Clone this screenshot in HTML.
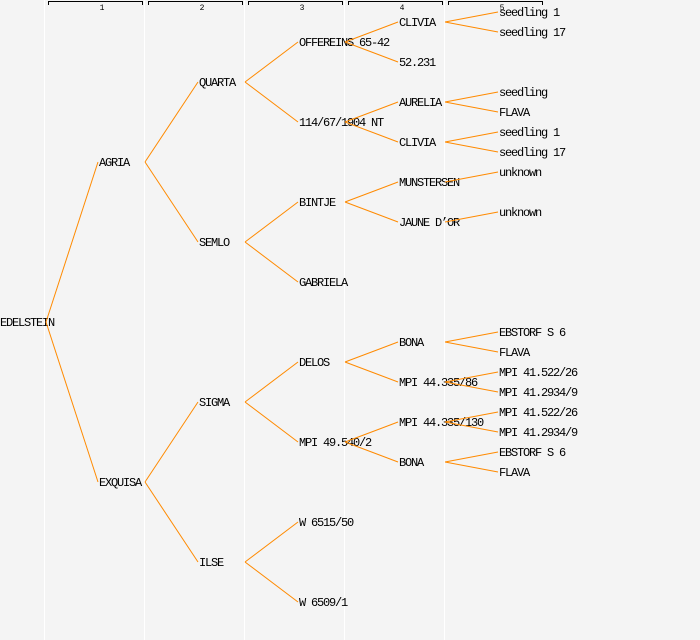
<!DOCTYPE html>
<html><head><meta charset="utf-8"><style>
html,body{margin:0;padding:0;background:#f4f4f4}
svg{display:block}
text{font-family:"Liberation Mono","DejaVu Sans Mono",monospace;font-size:12px;letter-spacing:-1.2px;fill:#000}
.n{font-size:8px;letter-spacing:0}
line.e{stroke:#ff8a00;stroke-width:1}
</style></head><body>
<svg width="700" height="640" viewBox="0 0 700 640" xmlns="http://www.w3.org/2000/svg">
<rect width="700" height="640" fill="#f4f4f4"/>
<g stroke="#ffffff" stroke-width="1">
<line x1="44.5" y1="0" x2="44.5" y2="640"/><line x1="144.5" y1="0" x2="144.5" y2="640"/><line x1="244.5" y1="0" x2="244.5" y2="640"/><line x1="344.5" y1="0" x2="344.5" y2="640"/><line x1="444.5" y1="0" x2="444.5" y2="640"/>
</g>
<g stroke="#000" stroke-width="1" fill="none">
<path d="M48.5 5V1.5H142.5V5"/><path d="M148.5 5V1.5H242.5V5"/><path d="M248.5 5V1.5H342.5V5"/><path d="M348.5 5V1.5H442.5V5"/><path d="M448.5 5V1.5H542.5V5"/>
</g>
<text class="n" x="102" y="10" text-anchor="middle">1</text>
<text class="n" x="202" y="10" text-anchor="middle">2</text>
<text class="n" x="302" y="10" text-anchor="middle">3</text>
<text class="n" x="402" y="10" text-anchor="middle">4</text>
<text class="n" x="502" y="10" text-anchor="middle">5</text>

<g>
<text x="0" y="326">EDELSTEIN</text>
<text x="99" y="166">AGRIA</text>
<text x="99" y="486">EXQUISA</text>
<text x="199" y="86">QUARTA</text>
<text x="199" y="246">SEMLO</text>
<text x="199" y="406">SIGMA</text>
<text x="199" y="566">ILSE</text>
<text x="299" y="46">OFFEREINS 65-42</text>
<text x="299" y="126">114/67/1904 NT</text>
<text x="299" y="206">BINTJE</text>
<text x="299" y="286">GABRIELA</text>
<text x="299" y="366">DELOS</text>
<text x="299" y="446">MPI 49.540/2</text>
<text x="299" y="526">W 6515/50</text>
<text x="299" y="606">W 6509/1</text>
<text x="399" y="26">CLIVIA</text>
<text x="399" y="66">52.231</text>
<text x="399" y="106">AURELIA</text>
<text x="399" y="146">CLIVIA</text>
<text x="399" y="186">MUNSTERSEN</text>
<text x="399" y="226">JAUNE D’OR</text>
<text x="399" y="346">BONA</text>
<text x="399" y="386">MPI 44.335/86</text>
<text x="399" y="426">MPI 44.335/130</text>
<text x="399" y="466">BONA</text>
<text x="499" y="16">seedling 1</text>
<text x="499" y="36">seedling 17</text>
<text x="499" y="96">seedling</text>
<text x="499" y="116">FLAVA</text>
<text x="499" y="136">seedling 1</text>
<text x="499" y="156">seedling 17</text>
<text x="499" y="176">unknown</text>
<text x="499" y="216">unknown</text>
<text x="499" y="336">EBSTORF S 6</text>
<text x="499" y="356">FLAVA</text>
<text x="499" y="376">MPI 41.522/26</text>
<text x="499" y="396">MPI 41.2934/9</text>
<text x="499" y="416">MPI 41.522/26</text>
<text x="499" y="436">MPI 41.2934/9</text>
<text x="499" y="456">EBSTORF S 6</text>
<text x="499" y="476">FLAVA</text>
</g>

<g>
<line class="e" x1="46" y1="322" x2="98" y2="162"/>
<line class="e" x1="46" y1="322" x2="98" y2="482"/>
<line class="e" x1="145" y1="162" x2="198" y2="82"/>
<line class="e" x1="145" y1="162" x2="198" y2="242"/>
<line class="e" x1="145" y1="482" x2="198" y2="402"/>
<line class="e" x1="145" y1="482" x2="198" y2="562"/>
<line class="e" x1="245" y1="82" x2="298" y2="42"/>
<line class="e" x1="245" y1="82" x2="298" y2="122"/>
<line class="e" x1="245" y1="242" x2="298" y2="202"/>
<line class="e" x1="245" y1="242" x2="298" y2="282"/>
<line class="e" x1="245" y1="402" x2="298" y2="362"/>
<line class="e" x1="245" y1="402" x2="298" y2="442"/>
<line class="e" x1="245" y1="562" x2="298" y2="522"/>
<line class="e" x1="245" y1="562" x2="298" y2="602"/>
<line class="e" x1="345" y1="42" x2="398" y2="22"/>
<line class="e" x1="345" y1="42" x2="398" y2="62"/>
<line class="e" x1="345" y1="122" x2="398" y2="102"/>
<line class="e" x1="345" y1="122" x2="398" y2="142"/>
<line class="e" x1="345" y1="202" x2="398" y2="182"/>
<line class="e" x1="345" y1="202" x2="398" y2="222"/>
<line class="e" x1="345" y1="362" x2="398" y2="342"/>
<line class="e" x1="345" y1="362" x2="398" y2="382"/>
<line class="e" x1="345" y1="442" x2="398" y2="422"/>
<line class="e" x1="345" y1="442" x2="398" y2="462"/>
<line class="e" x1="445" y1="22" x2="498" y2="12"/>
<line class="e" x1="445" y1="22" x2="498" y2="32"/>
<line class="e" x1="445" y1="102" x2="498" y2="92"/>
<line class="e" x1="445" y1="102" x2="498" y2="112"/>
<line class="e" x1="445" y1="142" x2="498" y2="132"/>
<line class="e" x1="445" y1="142" x2="498" y2="152"/>
<line class="e" x1="445" y1="182" x2="498" y2="172"/>
<line class="e" x1="445" y1="222" x2="498" y2="212"/>
<line class="e" x1="445" y1="342" x2="498" y2="332"/>
<line class="e" x1="445" y1="342" x2="498" y2="352"/>
<line class="e" x1="445" y1="382" x2="498" y2="372"/>
<line class="e" x1="445" y1="382" x2="498" y2="392"/>
<line class="e" x1="445" y1="422" x2="498" y2="412"/>
<line class="e" x1="445" y1="422" x2="498" y2="432"/>
<line class="e" x1="445" y1="462" x2="498" y2="452"/>
<line class="e" x1="445" y1="462" x2="498" y2="472"/>
</g>
</svg>
</body></html>
